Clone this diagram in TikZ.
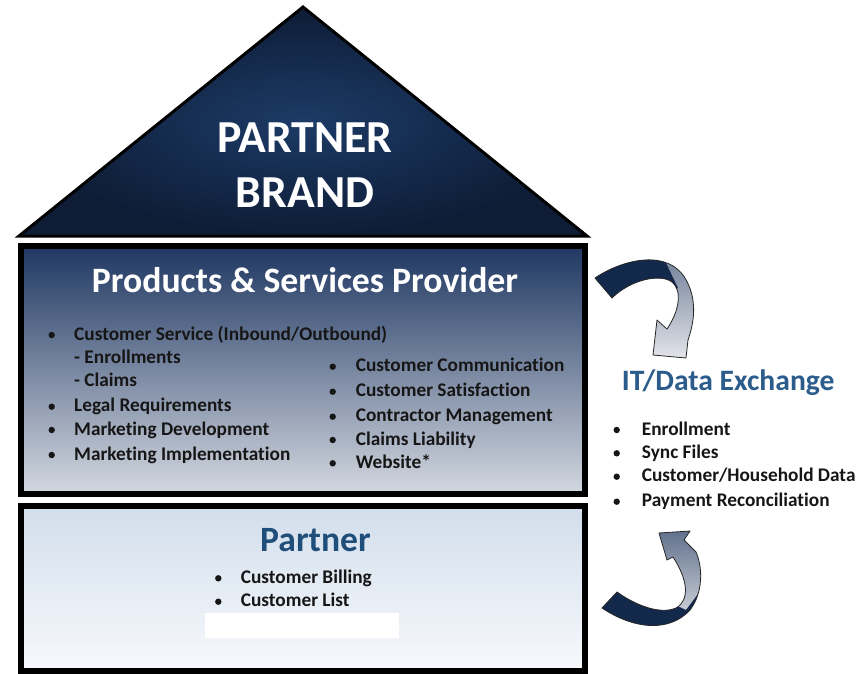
\documentclass[tikz,border=0pt]{standalone}
\usepackage{fontspec}
\setmainfont{Carlito}[Ligatures={NoCommon}]
\definecolor{navy}{HTML}{13294B}
\definecolor{roofin}{HTML}{1C3B66}
\definecolor{roofout}{HTML}{0E1C36}
\definecolor{midtop}{HTML}{1F3762}
\definecolor{midmid}{HTML}{8592A8}
\definecolor{midbot}{HTML}{D3D8E0}
\definecolor{lowtop}{HTML}{D2DEEC}
\definecolor{lowbot}{HTML}{F7F9FC}
\definecolor{textdark}{HTML}{161616}
\definecolor{itblue}{HTML}{2B5C8C}
\definecolor{ptblue}{HTML}{1F4E7A}
\definecolor{arrowgrey}{HTML}{E2E4E9}
\definecolor{arrowmid}{HTML}{6A7A94}
\tikzset{
  rooftext/.style={anchor=base, inner sep=0, text=white, font=\fontsize{45.8}{52}\selectfont\bfseries},
  titletext/.style={anchor=base, inner sep=0, text=white, font=\fontsize{35.7}{42}\selectfont\bfseries},
  itemtext/.style={anchor=base west, inner sep=0, text=textdark, font=\fontsize{19.3}{23}\selectfont\bfseries},
  ittitle/.style={anchor=base west, inner sep=0, text=itblue, font=\fontsize{29.6}{35}\selectfont\bfseries},
  pttitle/.style={anchor=base west, inner sep=0, text=ptblue, font=\fontsize{35.6}{42}\selectfont\bfseries},
  bulletdot/.style={fill=textdark},
  arrowline/.style={draw=black!85, line width=0.8pt, line join=round}
}
\def\toparrow{(595,278) .. controls (625,258) and (668,250) .. (685,278) .. controls (697,298) and (695,320) .. (688,340) -- (686,358) -- (653,355) -- (657,320) -- (667,329) .. controls (680,310) and (682,290) .. (672,282) .. controls (660,273) and (630,280) .. (612,298) -- cycle}
\def\botarrow{(602,608) .. controls (635,630) and (670,632) .. (690,610) .. controls (703,593) and (703,568) .. (696,552) -- (684,540) -- (690,531) -- (659,533) -- (667,560) -- (673,557) .. controls (688,580) and (690,600) .. (676,608) .. controls (660,615) and (635,605) .. (617,592) -- cycle}
\begin{document}
\begin{tikzpicture}[x=1pt,y=-1pt]
\useasboundingbox (0,0) rectangle (859,674);
\fill[white] (0,0) rectangle (859,674);

% roof
\shadedraw[inner color=roofin, outer color=roofout, draw=black, line width=3pt, line join=miter] (19,236) -- (303,7) -- (587,236) -- cycle;
\node[rooftext] (roof1) at (305,153) {PARTNER};
\node[rooftext] (roof2) at (305,207) {BRAND};

% middle box
\shadedraw[top color=midtop, middle color=midmid, bottom color=midbot, draw=black, line width=6pt] (21,246) rectangle (585,494);
\node[titletext] (psp) at (305,292.7) {Products \& Services Provider};

\node[itemtext] (l1) at (74,340) {Customer Service (Inbound/Outbound)};
\node[itemtext] (l2) at (74,363.3) {- Enrollments};
\node[itemtext] (l3) at (74,386.7) {- Claims};
\node[itemtext] (l4) at (74,411.7) {Legal Requirements};
\node[itemtext] (l5) at (74,435) {Marketing Development};
\node[itemtext] (l6) at (74,460) {Marketing Implementation};
\foreach \yy in {340,411.7,435,460} \fill[bulletdot] (51.7,\yy-5) circle (3.2);

\node[itemtext] (r1) at (355.7,371.7) {Customer Communication};
\node[itemtext] (r2) at (355.7,396.7) {Customer Satisfaction};
\node[itemtext] (r3) at (355.7,421.7) {Contractor Management};
\node[itemtext] (r4) at (355.7,445) {Claims Liability};
\node[itemtext] (r5) at (355.7,468.3) {Website*};
\foreach \yy in {371.7,396.7,421.7,445,468.3} \fill[bulletdot] (332.7,\yy-5) circle (3.2);

% bottom box
\shadedraw[top color=lowtop, bottom color=lowbot, draw=black, line width=6pt] (21,506) rectangle (585,671);
\fill[white] (205,613) rectangle (399,638);
\node[pttitle] (pt) at (260,551.7) {Partner};
\node[itemtext] (p1) at (240.7,583.3) {Customer Billing};
\node[itemtext] (p2) at (240.7,606.7) {Customer List};
\foreach \yy in {583.3,606.7} \fill[bulletdot] (218.3,\yy-5) circle (3.2);

% IT / data exchange
\node[ittitle] (it) at (621.7,390) {IT/Data Exchange};
\node[itemtext] (i1) at (641.7,435) {Enrollment};
\node[itemtext] (i2) at (641.7,458.3) {Sync Files};
\node[itemtext] (i3) at (641.7,481.7) {Customer/Household Data};
\node[itemtext] (i4) at (641.7,506.7) {Payment Reconciliation};
\foreach \yy in {435,458.3,481.7,506.7} \fill[bulletdot] (616.7,\yy-5) circle (3.2);

% top curved arrow
\shade[top color=arrowmid, bottom color=arrowgrey] \toparrow;
\begin{scope}
  \clip \toparrow;
  \fill[navy] (590,250) -- (665,250) -- (665,261) -- (678,288) -- (640,300) -- (590,310) -- cycle;
\end{scope}
\draw[arrowline] \toparrow;

% bottom curved arrow
\shade[top color=arrowmid!90!navy, middle color=arrowgrey!92!black, bottom color=arrowgrey] \botarrow;
\begin{scope}
  \clip \botarrow;
  \fill[navy] (595,585) -- (660,598) -- (686,610) -- (698,594) -- (710,600) -- (710,640) -- (595,640) -- cycle;
\end{scope}
\draw[arrowline] \botarrow;
\end{tikzpicture}
\end{document}
